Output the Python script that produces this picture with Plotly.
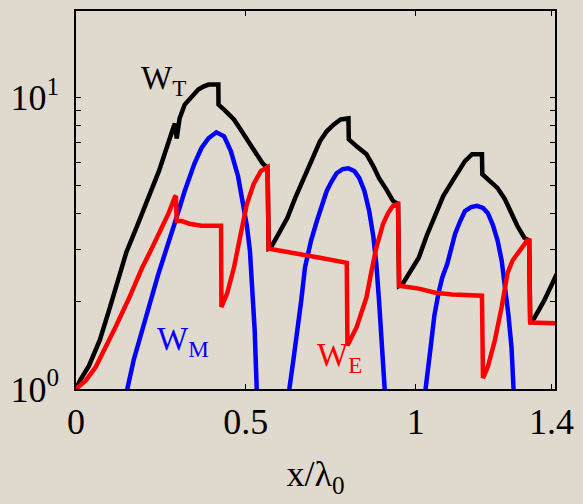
import plotly.graph_objects as go

# ---- data ----
wt_x = [0.0, 0.012, 0.038, 0.070, 0.099, 0.125, 0.148, 0.180, 0.209, 0.244, 0.285, 0.291, 0.2965,
        0.305, 0.320, 0.340, 0.360, 0.375, 0.390, 0.419, 0.4195, 0.442, 0.465, 0.485, 0.506, 0.529,
        0.549, 0.558, 0.564, 0.567, 0.573, 0.593, 0.622, 0.645, 0.672, 0.695, 0.718, 0.738, 0.759,
        0.779, 0.802, 0.803, 0.826, 0.855, 0.875, 0.892, 0.913, 0.933, 0.948, 0.951, 0.962, 0.985,
        1.009, 1.032, 1.058, 1.081, 1.108, 1.125, 1.145, 1.166, 1.195, 1.196, 1.218, 1.241, 1.262,
        1.282, 1.299, 1.320, 1.334, 1.337, 1.349, 1.378, 1.410, 1.42]
wt_y = [1.0, 1.07, 1.20, 1.47, 1.89, 2.41, 2.94, 3.63, 4.42, 5.59, 7.78, 8.15, 7.24,
        8.48, 9.46, 10.1, 10.65, 10.9, 11.08, 11.08, 9.46, 8.95, 8.41, 7.75, 7.08, 6.50,
        5.95, 5.82, 5.77, 3.03, 3.05, 3.35, 3.86, 4.52, 5.29, 6.14, 7.08, 7.66, 8.09,
        8.41, 8.48, 7.19, 6.80, 6.39, 5.82, 5.29, 4.85, 4.42, 4.31, 2.26, 2.30, 2.55,
        2.82, 3.35, 3.99, 4.59, 5.17, 5.59, 6.05, 6.39, 6.39, 5.46, 5.17, 4.89, 4.49,
        4.02, 3.63, 3.30, 3.23, 1.69, 1.75, 2.01, 2.41, 2.55]

we_x = [0.0, 0.029, 0.058, 0.087, 0.116, 0.157, 0.195, 0.224, 0.253, 0.273, 0.291, 0.294, 0.2965,
        0.311, 0.334, 0.369, 0.427, 0.428, 0.445, 0.465, 0.485, 0.503, 0.523, 0.544, 0.564, 0.567,
        0.602, 0.672, 0.718, 0.797, 0.799, 0.826, 0.840, 0.855, 0.869, 0.884, 0.904, 0.919, 0.933,
        0.948, 0.951, 1.009, 1.058, 1.108, 1.195, 1.198, 1.212, 1.233, 1.253, 1.270, 1.285, 1.299,
        1.314, 1.328, 1.334, 1.337, 1.42]
we_y = [1.0, 1.07, 1.19, 1.38, 1.63, 2.06, 2.61, 3.05, 3.57, 4.02, 4.56, 4.59, 3.77,
        3.77, 3.69, 3.63, 3.63, 1.91, 2.13, 2.61, 3.41, 4.31, 5.05, 5.59, 5.77, 3.03,
        2.98, 2.89, 2.82, 2.71, 1.41, 1.63, 1.82, 2.06, 2.51, 3.05, 3.69, 4.02, 4.25,
        4.31, 2.26, 2.21, 2.14, 2.11, 2.09, 1.09, 1.19, 1.47, 1.91, 2.49, 2.76, 2.91,
        3.08, 3.23, 3.23, 1.69, 1.68]

wm_x = [0.150, 0.151, 0.170, 0.195, 0.241, 0.291, 0.320, 0.349, 0.369, 0.390, 0.413, 0.436, 0.456,
        0.477, 0.491, 0.503, 0.512, 0.520, 0.526, 0.532, 0.533, None,
        0.627, 0.628, 0.640, 0.651, 0.663, 0.674, 0.692, 0.709, 0.724, 0.738, 0.753, 0.767, 0.785,
        0.802, 0.820, 0.834, 0.849, 0.863, 0.875, 0.884, 0.892, 0.901, 0.913, 0.914, None,
        1.028, 1.029, 1.044, 1.055, 1.067, 1.078, 1.093, 1.105, 1.116, 1.131, 1.145, 1.163, 1.180,
        1.198, 1.212, 1.227, 1.241, 1.253, 1.262, 1.273, 1.282, 1.291, 1.292]
wm_y = [0.8, 1.0, 1.26, 1.59, 2.45, 3.72, 4.78, 5.95, 6.70, 7.25, 7.60, 7.36, 6.54,
        5.37, 4.42, 3.63, 2.98, 2.18, 1.59, 1.0, 0.8, None,
        0.8, 1.0, 1.26, 1.55, 2.01, 2.61, 3.23, 3.77, 4.31, 4.78, 5.17, 5.50, 5.68,
        5.72, 5.59, 5.29, 4.78, 4.08, 3.35, 2.69, 2.01, 1.47, 1.0, 0.8, None,
        0.8, 1.0, 1.39, 1.79, 2.13, 2.41, 2.69, 3.03, 3.41, 3.77, 4.08, 4.21, 4.25,
        4.18, 4.02, 3.66, 3.23, 2.76, 2.30, 1.79, 1.39, 1.0, 0.8]

x_ticks = [0, 0.5, 1, 1.4]
x_ticktext = ["0", "0.5", "1", "1.4"]
y_ticks = [1, 2, 3, 4, 5, 6, 7, 8, 9, 10]
y_ticktext = ["10<sup>0</sup>", "", "", "", "", "", "", "", "", "10<sup>1</sup>"]

BG = "#e0d9ce"
FONT = "Liberation Serif"

fig = go.Figure()
fig.add_trace(go.Scatter(x=wt_x, y=wt_y, mode="lines", line=dict(color="black", width=4.5), name="W_T"))
fig.add_trace(go.Scatter(x=wm_x, y=wm_y, mode="lines", line=dict(color="#0000ff", width=4.5),
                         connectgaps=False, name="W_M"))
fig.add_trace(go.Scatter(x=we_x, y=we_y, mode="lines", line=dict(color="#ff0000", width=4.5), name="W_E"))

fig.add_annotation(x=0.186, y=1.058, xref="x", yref="y", text="W<sub>T</sub>", showarrow=False,
                   xanchor="left", yanchor="middle", font=dict(family=FONT, size=33, color="black"))
fig.add_annotation(x=0.233, y=0.164, xref="x", yref="y", text="W<sub>M</sub>", showarrow=False,
                   xanchor="left", yanchor="middle", font=dict(family=FONT, size=33, color="#0000ff"))
fig.add_annotation(x=0.703, y=0.109, xref="x", yref="y", text="W<sub>E</sub>", showarrow=False,
                   xanchor="left", yanchor="middle", font=dict(family=FONT, size=33, color="#ff0000"))

fig.update_layout(
    width=583, height=504, autosize=False,
    margin=dict(l=76, r=22, t=9, b=115),
    paper_bgcolor=BG, plot_bgcolor=BG,
    showlegend=False,
    font=dict(family=FONT, size=36, color="black"),
)
fig.update_xaxes(
    range=[0, 1.41], tickmode="array", tickvals=x_ticks, ticktext=x_ticktext,
    ticks="inside", ticklen=5, tickwidth=1, tickcolor="black",
    showline=True, linecolor="black", linewidth=1.5, mirror="ticks",
    showgrid=False, zeroline=False,
    tickfont=dict(family=FONT, size=36),
    title=dict(text="x/λ<sub>0</sub>", font=dict(family=FONT, size=36), standoff=20),
)
fig.update_yaxes(
    type="log", range=[0, 1.297], tickmode="array", tickvals=y_ticks, ticktext=y_ticktext,
    ticks="inside", ticklen=5, tickwidth=1, tickcolor="black",
    showline=True, linecolor="black", linewidth=1.5, mirror="ticks",
    showgrid=False, zeroline=False,
    tickfont=dict(family=FONT, size=36),
    ticklabelstandoff=8,
)

fig.write_html("out.html")
